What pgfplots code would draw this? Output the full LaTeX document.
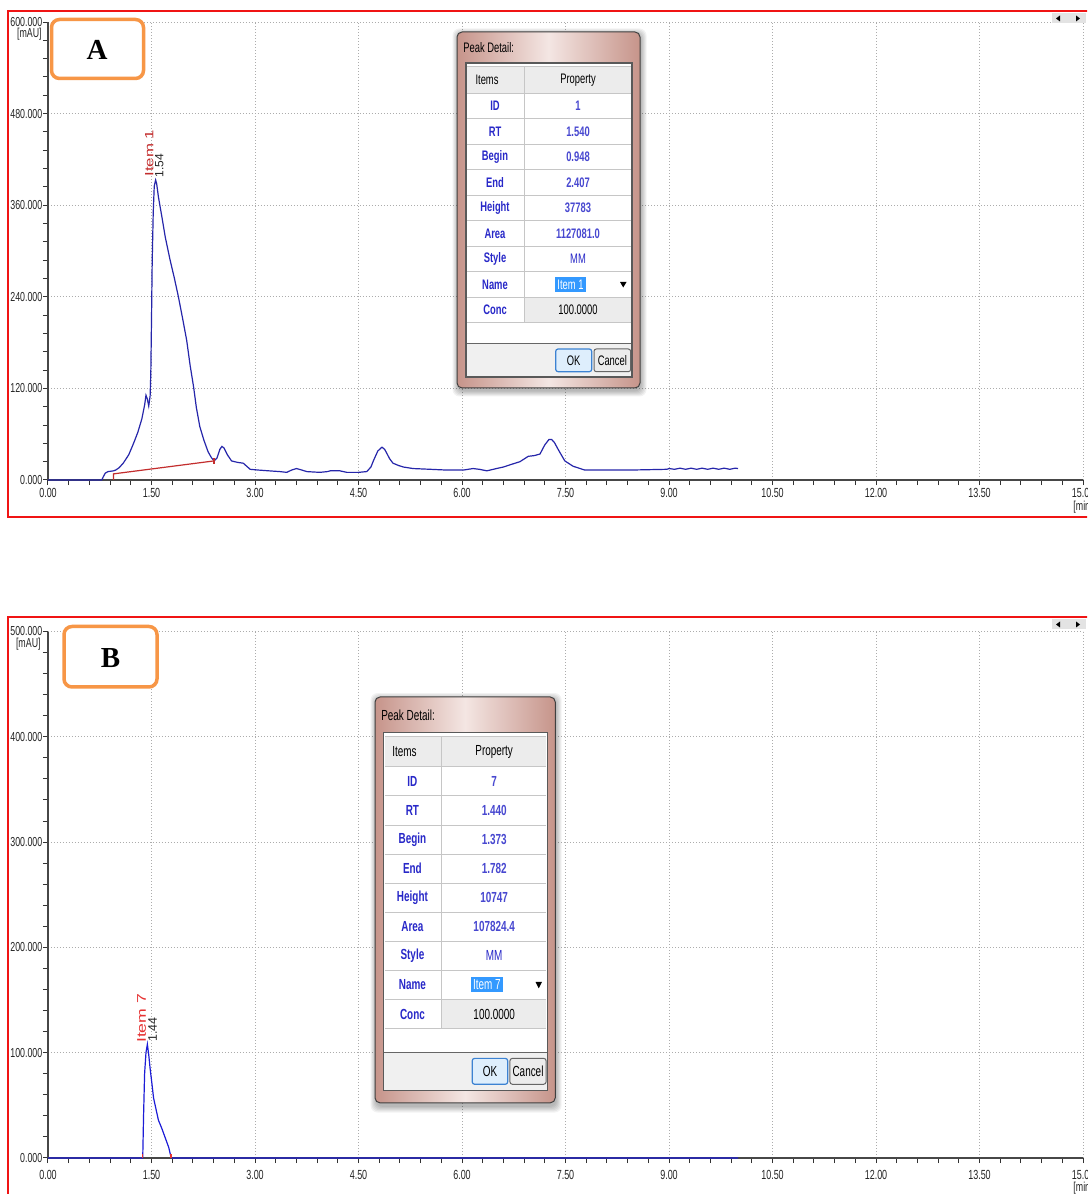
\documentclass[border=0pt]{standalone}
\usepackage{pgfplots}
\pgfplotsset{compat=1.18}
\usepackage{fontspec}
\setmainfont{Liberation Sans}
\newfontfamily\narrow[FakeStretch=0.68]{Liberation Sans}
\newfontfamily\wide[FakeStretch=1.4]{Liberation Sans}
\newfontfamily\serifbf{Liberation Serif}
\definecolor{traceA}{RGB}{38,38,170}
\definecolor{traceB}{RGB}{28,28,215}
\definecolor{frameRed}{RGB}{240,20,20}
\definecolor{boxOrange}{RGB}{247,150,70}
\definecolor{dlgBlue}{RGB}{40,40,200}
\definecolor{frDark}{RGB}{198,148,138}
\definecolor{frLight}{RGB}{244,230,227}
\definecolor{selBlue}{RGB}{51,153,255}
\definecolor{intRed}{RGB}{195,45,45}
\definecolor{intRedB}{RGB}{230,50,50}
\definecolor{hdrGray}{RGB}{236,236,236}
\definecolor{btnGray}{RGB}{240,240,240}
\definecolor{okFill}{RGB}{222,238,252}
\definecolor{okDraw}{RGB}{60,130,210}

\pgfplotsset{
  chrom/.style={
    scale only axis, anchor=south west, clip=false,
    width=517.5pt, xmin=0, xmax=15,
    axis lines*=left,
    axis line style={black!72, line width=0.9pt},
    xtick={0,1.5,3,4.5,6,7.5,9,10.5,12,13.5,15},
    xticklabels={0.00,1.50,3.00,4.50,6.00,7.50,9.00,10.50,12.00,13.50,15.00},
    minor x tick num=4, minor y tick num=4,
    tick align=outside,
    major tick length=2.6pt, minor tick length=2.6pt,
    tick style={black!80, line width=0.5pt},
    grid=major,
    major grid style={gray!65, line width=0.45pt, dash pattern=on 0.45pt off 1.05pt},
    xticklabel style={font=\narrow\fontsize{6.6}{7}\selectfont, text=black!85},
    yticklabel style={font=\narrow\fontsize{6.5}{7}\selectfont, text=black!85, xshift=3.3pt},
  },
}

\newcommand\dfont[1]{\narrow\fontsize{#1}{#1}\selectfont}
% #1 x, #2 y, #3 xscale, #4 yscale, #5 font size
\newcommand\dialog[5]{%
\begin{scope}[shift={(#1,#2)}, xscale=#3, yscale=#4]
  \foreach \i in {1,...,6} {
    \fill[black, opacity=0.05, rounded corners=3.5pt] (-\i+1.5, -\i+2.5) rectangle (183+\i+0.5, 356+\i+2.5);
  }
  \shade[left color=frDark, right color=frDark, middle color=frLight, rounded corners=2.5pt] (0,0) rectangle (183,356);
  \draw[black!75, line width=0.5pt, rounded corners=2.5pt] (0,0) rectangle (183,356);
  \node[anchor=west, font=\dfont{#5}, inner sep=0pt] at (6,16) {Peak Detail:};
  \fill[white] (9,31) rectangle (175,312);
  \fill[btnGray] (9,312) rectangle (175,345);
  \fill[hdrGray] (10,34.7) rectangle (174,61.3);
  \fill[hdrGray] (67,265.3) rectangle (174,290.8);
  \foreach \k in {0,...,9} {\draw[gray!45, line width=0.45pt] (10,61.3+25.5*\k) -- (174,61.3+25.5*\k);}
  \draw[gray!45, line width=0.45pt] (67,34.7) -- (67,290.8);
  \draw[gray!45, line width=0.45pt] (10,34.7) -- (174,34.7);
  \draw[black!60, line width=0.5pt] (9,312) -- (175,312);
  \draw[black!65, line width=0.55pt] (9,31) rectangle (175,345);
  \node[font=\dfont{#5}] at (30,48) {Items};
  \node[font=\dfont{#5}] at (121,48) {Property};
  \foreach \lab [count=\k from 0] in {ID,RT,Begin,End,Height,Area,Style,Name,Conc}
    {\node[font=\dfont{#5}\bfseries, text=dlgBlue] at (38,74.05+25.5*\k) {\lab};}
  \node[font=\dfont{#5}\bfseries, text=dlgBlue!85] at (121,74.05) {\dID};
  \node[font=\dfont{#5}\bfseries, text=dlgBlue!85] at (121,99.55) {\dRT};
  \node[font=\dfont{#5}\bfseries, text=dlgBlue!85] at (121,125.05) {\dBegin};
  \node[font=\dfont{#5}\bfseries, text=dlgBlue!85] at (121,150.55) {\dEnd};
  \node[font=\dfont{#5}\bfseries, text=dlgBlue!85] at (121,176.05) {\dHeight};
  \node[font=\dfont{#5}\bfseries, text=dlgBlue!85] at (121,201.55) {\dArea};
  \node[font=\dfont{#5}, text=dlgBlue] at (121,227.05) {MM};
  \node[font=\dfont{#5}, text=white, fill=selBlue, inner sep=1.2pt] at (113.5,252.55) {\dName};
  \fill[black] (163,250) -- (169.5,250) -- (166.25,255.5) -- cycle;
  \node[font=\dfont{#5}] at (121,278.05) {100.0000};
  \draw[okDraw, fill=okFill, line width=0.6pt, rounded corners=1.2pt] (98.7,317) rectangle (134.7,339.7);
  \node[font=\dfont{#5}] at (116.7,328.35) {OK};
  \draw[black!60, fill=hdrGray, line width=0.5pt, rounded corners=1.2pt] (137,317) rectangle (173.7,339.7);
  \node[font=\dfont{#5}] at (155.35,328.35) {Cancel};
\end{scope}}

\begin{document}
\begin{tikzpicture}
\path[use as bounding box] (0,0) rectangle (543.5pt,597pt);
\clip (0,0) rectangle (543.5pt,597pt);
\fill[white] (0,0) rectangle (543.5pt,597pt);

\begin{scope}[x=0.5pt, y=-0.5pt, shift={(0pt,597pt)}]
  \draw[frameRed, line width=1pt] (7.5,11.5) rectangle (1110,517.5);
  \draw[frameRed, line width=1pt] (8,617) rectangle (1110,1215);
\end{scope}

% ---------------- Panel A ----------------
\begin{axis}[chrom, at={(24pt,357pt)}, height=229pt, ymin=0, ymax=600,
  ytick={0,120,240,360,480,600},
  yticklabels={0.000,120.000,240.000,360.000,480.000,600.000},
  xticklabel style={yshift=2pt}]
\addplot[traceA, line width=0.6pt] table {
0 0
0.78 0
0.80 4
0.83 9
0.87 11
0.95 12
0.98 13
1.03 16
1.09 22
1.17 33
1.24 48
1.30 62
1.36 80
1.40 98
1.42 111
1.44 106
1.46 97
1.48 110
1.49 140
1.50 209
1.51 285
1.525 350
1.54 385
1.56 393
1.575 388
1.60 371
1.65 345
1.70 318
1.77 288
1.83 265
1.89 240
1.95 212
2.01 183
2.06 150
2.11 122
2.15 95
2.20 70
2.26 52
2.32 37
2.37 29
2.41 25
2.45 29
2.49 40
2.52 44
2.55 42
2.60 33
2.66 25
2.75 23
2.83 22
2.88 18
2.93 14
3.05 13
3.20 12
3.36 11
3.46 10
3.53 13
3.60 15
3.68 13
3.75 11
3.94 10
4.05 11
4.09 12
4.23 12
4.33 10
4.50 10
4.62 11
4.68 17
4.72 26
4.78 38
4.84 43
4.88 40
4.91 35
4.95 28
5.00 22
5.08 19
5.15 17
5.29 15
5.54 14
5.78 13
6.02 13
6.16 15
6.25 14
6.36 12
6.50 15
6.60 17
6.70 20
6.84 24
6.96 31
7.05 32
7.13 34
7.20 46
7.26 53
7.30 53
7.34 49
7.40 39
7.49 25
7.61 18
7.78 13
8.43 13
8.97 14
9.00 15
9.08 14
9.16 15.5
9.24 14
9.32 15.5
9.40 14
9.48 15.5
9.56 14
9.64 15.5
9.72 14
9.80 15.5
9.88 14
9.96 15.5
10.00 15
};
\addplot[intRed, line width=0.6pt] coordinates {(0.948,0) (0.948,8) (2.407,25)};
\addplot[intRed, line width=0.6pt] coordinates {(2.407,21) (2.407,29)};
\node[rotate=90, anchor=west, text=intRed, font=\wide\fontsize{6}{6}\selectfont, inner sep=0pt] at (axis cs:1.47,397) {Item 1};
\node[rotate=90, anchor=west, text=black!85, font=\fontsize{6}{6}\selectfont, inner sep=0pt] at (axis cs:1.613,396) {1.54};
\node[anchor=north east, font=\narrow\fontsize{6.5}{7}\selectfont, text=black!85, inner sep=0pt, xshift=-3pt, yshift=-3pt] at (rel axis cs:0,1) {[mAU]};
\node[anchor=north, font=\narrow\fontsize{6.5}{7}\selectfont, text=black!85, inner sep=0pt, yshift=-10.5pt] at (axis cs:15,0) {[min]};
\end{axis}

% ---------------- Panel B ----------------
\begin{axis}[chrom, at={(24pt,18pt)}, height=263.25pt, ymin=0, ymax=500,
  ytick={0,100,200,300,400,500},
  yticklabels={0.000,100.000,200.000,300.000,400.000,500.000}]
\addplot[traceB, line width=0.6pt] table {
0 0
1.373 0
1.385 40
1.40 80
1.42 100
1.44 108
1.46 98
1.48 85
1.50 74
1.53 57
1.57 45
1.60 36
1.65 28
1.70 19
1.75 10
1.782 1
1.80 0
10.0 0
};
\addplot[intRedB, line width=0.6pt] coordinates {(1.373,0) (1.373,4)};
\addplot[intRedB, line width=0.6pt] coordinates {(1.782,0) (1.782,4)};
\node[rotate=90, anchor=west, text=intRedB, font=\wide\fontsize{6.3}{6.3}\selectfont, inner sep=0pt] at (axis cs:1.358,109) {Item 7};
\node[rotate=90, anchor=west, text=black!85, font=\fontsize{6.2}{6.2}\selectfont, inner sep=0pt] at (axis cs:1.515,110) {1.44};
\node[anchor=north east, font=\narrow\fontsize{6.5}{7}\selectfont, text=black!85, inner sep=0pt, xshift=-3.5pt, yshift=-3pt] at (rel axis cs:0,1) {[mAU]};
\node[anchor=north, font=\narrow\fontsize{6.5}{7}\selectfont, text=black!85, inner sep=0pt, yshift=-12pt] at (axis cs:15,0) {[min]};
\end{axis}

% ---------------- Overlays (pixel coordinates) ----------------
\begin{scope}[x=0.5pt, y=-0.5pt, shift={(0pt,597pt)}]
  % orange labels
  \draw[boxOrange, fill=white, line width=1.75pt, rounded corners=4pt] (51.5,19.5) rectangle (143.5,78.5);
  \node[font=\serifbf\bfseries\fontsize{14.5}{14.5}\selectfont] at (97,50) {A};
  \draw[boxOrange, fill=white, line width=1.75pt, rounded corners=4pt] (64,626.5) rectangle (157,687);
  \node[font=\serifbf\bfseries\fontsize{14.5}{14.5}\selectfont] at (110.5,658) {B};
  % scroll widgets
  \fill[gray!22] (1052,13.5) rectangle (1086,23.5);
  \fill[black] (1056,18.5) -- (1060,15.5) -- (1060,21.5) -- cycle;
  \fill[black] (1080,18.5) -- (1076,15.5) -- (1076,21.5) -- cycle;
  \fill[gray!22] (1052,619.5) rectangle (1086,629.5);
  \fill[black] (1056,624.5) -- (1060,621.5) -- (1060,627.5) -- cycle;
  \fill[black] (1080,624.5) -- (1076,621.5) -- (1076,627.5) -- cycle;
  % dialogs
  \def\dID{1}\def\dRT{1.540}\def\dBegin{0.948}\def\dEnd{2.407}\def\dHeight{37783}\def\dArea{1127081.0}\def\dName{Item 1}
  \dialog{457}{32}{1}{1}{6.9}
  \def\dID{7}\def\dRT{1.440}\def\dBegin{1.373}\def\dEnd{1.782}\def\dHeight{10747}\def\dArea{107824.4}\def\dName{Item 7}
  \dialog{375}{697}{0.985}{1.14}{7.3}
\end{scope}
\end{tikzpicture}
\end{document}
